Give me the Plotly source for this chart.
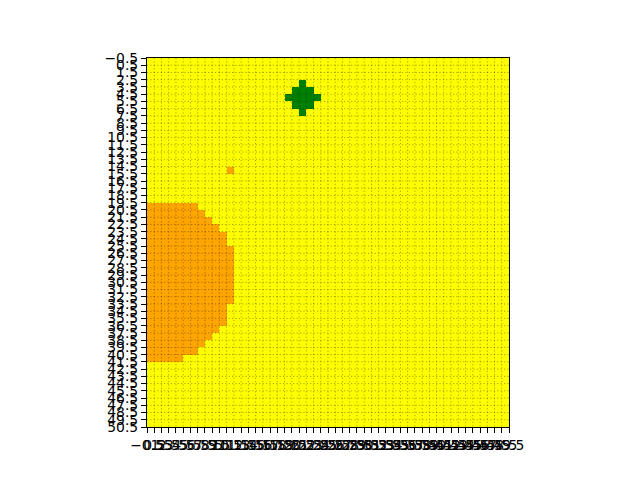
import plotly.graph_objects as go

# ---- data ----
n_rows = 51
n_cols = 50

# orange blob along the left edge: row index -> number of orange cells from col 0
orange_rows = [20, 21, 22, 23, 24, 25, 26, 27, 28, 29, 30, 31, 32, 33, 34, 35, 36, 37, 38, 39, 40, 41]
orange_widths = [7, 8, 9, 10, 11, 11, 12, 12, 12, 12, 12, 12, 12, 12, 11, 11, 11, 10, 9, 8, 7, 5]

# isolated orange cell (row, col)
orange_single_rows = [15]
orange_single_cols = [11]

# green diamond: row -> first col, last col
green_rows = [3, 4, 5, 6, 7]
green_first = [21, 20, 19, 20, 21]
green_last = [21, 22, 23, 22, 21]

# category codes: 0 = yellow, 1 = orange, 2 = green
category_colors = ["#ffff00", "#ffa500", "#008000"]

x_tick_vals = [i - 0.5 for i in range(n_cols + 1)]
y_tick_vals = [i - 0.5 for i in range(n_rows + 1)]


def fmt(v):
    s = f"{v:.1f}"
    return s.replace("-", "\u2212")


x_tick_text = [fmt(v) for v in x_tick_vals]
y_tick_text = [fmt(v) for v in y_tick_vals]

# ---- build grid ----
z = [[0] * n_cols for _ in range(n_rows)]
for r, w in zip(orange_rows, orange_widths):
    for c in range(w):
        z[r][c] = 1
for r, c in zip(orange_single_rows, orange_single_cols):
    z[r][c] = 1
for r, a, b in zip(green_rows, green_first, green_last):
    for c in range(a, b + 1):
        z[r][c] = 2

fig = go.Figure()
fig.add_trace(go.Heatmap(
    z=z,
    x=list(range(n_cols)),
    y=list(range(n_rows)),
    zmin=0, zmax=2,
    colorscale=[[0, category_colors[0]], [0.5, category_colors[1]], [1, category_colors[2]]],
    showscale=False,
    hoverinfo="skip",
))

# dotted grid lines at the cell boundaries, drawn above the cells
gx, gy = [], []
for v in x_tick_vals[1:-1]:
    gx += [v, v, None]
    gy += [y_tick_vals[0], y_tick_vals[-1], None]
for v in y_tick_vals[1:-1]:
    gx += [x_tick_vals[0], x_tick_vals[-1], None]
    gy += [v, v, None]
fig.add_trace(go.Scatter(
    x=gx, y=gy, mode="lines",
    line=dict(color="rgba(0,0,0,0.6)", width=0.6, dash="1.2px,2.2px"),
    hoverinfo="skip", showlegend=False,
))

font = dict(family="DejaVu Sans", size=13.9, color="black")
fig.update_layout(
    width=640, height=480,
    margin=dict(l=139, r=139, t=50, b=61),
    paper_bgcolor="white",
    plot_bgcolor="white",
    showlegend=False,
    font=font,
)
fig.update_xaxes(
    range=[x_tick_vals[0], x_tick_vals[-1]],
    tickmode="array", tickvals=x_tick_vals, ticktext=x_tick_text,
    tickangle=0,
    showgrid=False, zeroline=False,
    showline=True, mirror=True, linecolor="black", linewidth=1.1,
    ticks="outside", ticklen=5, tickwidth=1.1, tickcolor="black",
    tickfont=font,
)
fig.update_yaxes(
    range=[y_tick_vals[-1], y_tick_vals[0]],
    tickmode="array", tickvals=y_tick_vals, ticktext=y_tick_text,
    showgrid=False, zeroline=False,
    showline=True, mirror=True, linecolor="black", linewidth=1.1,
    ticks="outside", ticklen=5, tickwidth=1.1, tickcolor="black",
    tickfont=font,
)

fig.write_html("out.html")
